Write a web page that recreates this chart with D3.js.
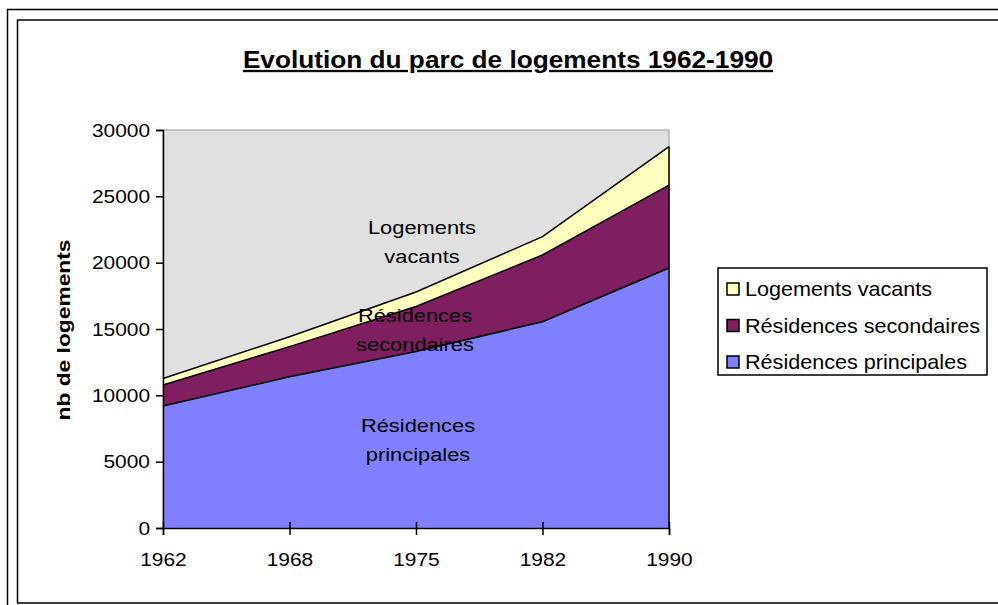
<!DOCTYPE html>
<html>
<head>
<meta charset="utf-8">
<script src="https://cdn.jsdelivr.net/npm/d3@7"></script>
<style>
  body { margin: 0; background: #fff; }
  text { font-family: "Liberation Sans", Arial, sans-serif; }
</style>
</head>
<body>
<div id="chart"></div>
<script>
const width = 998;
const height = 605;
const margin = { top: 130, right: 329, bottom: 77, left: 163 };

const years = ["1962", "1968", "1975", "1982", "1990"];
const principales = [9200, 11400, 13300, 15550, 19600];
const secondaires = [1580, 2270, 3400, 5030, 6250];
const vacants = [490, 750, 1090, 1380, 2900];
const yTicks = [0, 5000, 10000, 15000, 20000, 25000, 30000];

const keys = ["principales", "secondaires", "vacants"];
const labels = {
  principales: "Résidences principales",
  secondaires: "Résidences secondaires",
  vacants: "Logements vacants"
};
const colors = {
  principales: "#8080FF",
  secondaires: "#7F1F5F",
  vacants: "#FFFFC0"
};

const data = years.map((y, i) => ({
  year: y,
  principales: principales[i],
  secondaires: secondaires[i],
  vacants: vacants[i]
}));

const svg = d3.select("#chart")
  .append("svg")
  .attr("width", width)
  .attr("height", height);

// text drawn a bit wider than the font, like the original
function wideText(parent, x, y, sx, size) {
  return parent.append("g")
    .attr("transform", `translate(${x},${y}) scale(${sx},1)`)
    .append("text")
    .style("font-size", size + "px")
    .attr("fill", "#000");
}

// double frame
svg.append("rect")
  .attr("x", 7.5).attr("y", 9.5)
  .attr("width", 1000).attr("height", 620)
  .attr("fill", "none").attr("stroke", "#000").attr("stroke-width", 1.5);
svg.append("rect")
  .attr("x", 17.5).attr("y", 20)
  .attr("width", 1000).attr("height", 583)
  .attr("fill", "none").attr("stroke", "#000").attr("stroke-width", 1.5);

const x = d3.scalePoint()
  .domain(years)
  .range([margin.left, width - margin.right]);

const y = d3.scaleLinear()
  .domain([0, 30000])
  .range([height - margin.bottom, margin.top]);

// plot background
svg.append("rect")
  .attr("x", margin.left)
  .attr("y", margin.top)
  .attr("width", x.range()[1] - margin.left)
  .attr("height", y(0) - margin.top)
  .attr("fill", "#E0E0E0")
  .attr("stroke", "#999")
  .attr("stroke-width", 1);

const stacked = d3.stack().keys(keys)(data);

const area = d3.area()
  .x(d => x(d.data.year))
  .y0(d => y(d[0]))
  .y1(d => y(d[1]));

const line = d3.line()
  .x(d => x(d.data.year))
  .y(d => y(d[1]));

svg.selectAll("path.layer")
  .data(stacked)
  .enter()
  .append("path")
  .attr("class", "layer")
  .attr("fill", d => colors[d.key])
  .attr("d", area);

svg.selectAll("path.edge")
  .data(stacked)
  .enter()
  .append("path")
  .attr("class", "edge")
  .attr("fill", "none")
  .attr("stroke", "#000")
  .attr("stroke-width", 1.5)
  .attr("d", line);

// right edge of the filled area
svg.append("line")
  .attr("x1", x("1990")).attr("x2", x("1990"))
  .attr("y1", y(0)).attr("y2", y(d3.sum(keys, k => data[4][k])))
  .attr("stroke", "#000").attr("stroke-width", 1.5);

// axes
const yAxis = svg.append("g")
  .attr("transform", `translate(${margin.left},0)`)
  .call(d3.axisLeft(y).tickValues(yTicks).tickSize(7).tickPadding(6).tickFormat(d3.format("d")));

const xAxis = svg.append("g")
  .attr("transform", `translate(0,${y(0)})`)
  .call(d3.axisBottom(x).tickSize(7).tickPadding(18));

xAxis.selectAll(".tick line").attr("y1", -6);

[yAxis, xAxis].forEach(g => {
  g.select(".domain").attr("stroke", "#000").attr("stroke-width", 1.5);
  g.selectAll(".tick line").attr("stroke", "#000").attr("stroke-width", 1.5);
  g.selectAll("text")
    .attr("fill", "#000")
    .attr("transform", "scale(1.1,1)")
    .style("font-family", "'Liberation Sans', Arial, sans-serif")
    .style("font-size", "19px");
});
yAxis.selectAll("text").attr("x", -13 / 1.1);

// title
wideText(svg, 508, 68, 1.14, 23)
  .attr("text-anchor", "middle")
  .style("font-weight", "bold")
  .style("text-decoration", "underline")
  .text("Evolution du parc de logements 1962-1990");

// y axis label
svg.append("g")
  .attr("transform", "translate(70,330) rotate(-90) scale(1.2,1)")
  .append("text")
  .attr("text-anchor", "middle")
  .style("font-size", "19px")
  .style("font-weight", "bold")
  .text("nb de logements");

// in-chart labels
const inLabels = [
  { lines: ["Logements", "vacants"], x: 422, y: 234 },
  { lines: ["Résidences", "secondaires"], x: 415, y: 322 },
  { lines: ["Résidences", "principales"], x: 418, y: 432 }
];
inLabels.forEach(l => {
  const t = wideText(svg, l.x, l.y, 1.15, 19)
    .attr("text-anchor", "middle");
  l.lines.forEach((s, i) => {
    t.append("tspan")
      .attr("x", 0)
      .attr("y", i * 29)
      .text(s);
  });
});

// legend
const legend = svg.append("g")
  .attr("transform", "translate(718,268)");

legend.append("rect")
  .attr("width", 269)
  .attr("height", 107)
  .attr("fill", "#fff")
  .attr("stroke", "#000")
  .attr("stroke-width", 1.5);

keys.slice().reverse().forEach((k, i) => {
  const row = legend.append("g")
    .attr("transform", `translate(9, ${21 + i * 36.5})`);
  row.append("rect")
    .attr("x", 0)
    .attr("y", -6)
    .attr("width", 12)
    .attr("height", 12)
    .attr("fill", colors[k])
    .attr("stroke", "#000")
    .attr("stroke-width", 1.5);
  wideText(row, 18, 7, 1.08, 20).text(labels[k]);
});
</script>
</body>
</html>
